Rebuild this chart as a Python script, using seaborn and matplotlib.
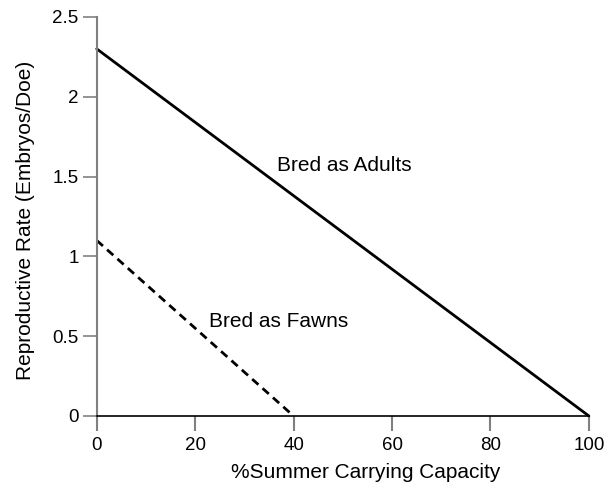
import pandas as pd
import seaborn as sns
import matplotlib.pyplot as plt

# --- Data
capacity_adults = [0, 100]
rate_adults = [2.3, 0.0]
capacity_fawns = [0, 40]
rate_fawns = [1.1, 0.0]
x_ticks = [0, 20, 40, 60, 80, 100]
y_ticks = [0, 0.5, 1, 1.5, 2, 2.5]
y_tick_labels = ['0', '0.5', '1', '1.5', '2', '2.5']

adults = pd.DataFrame({'capacity': capacity_adults, 'rate': rate_adults})
fawns = pd.DataFrame({'capacity': capacity_fawns, 'rate': rate_fawns})

sns.set_style('white')
plt.rcParams['font.family'] = ['Liberation Sans', 'DejaVu Sans']
plt.rcParams['text.color'] = 'black'
plt.rcParams['axes.labelcolor'] = 'black'
plt.rcParams['xtick.color'] = 'black'
plt.rcParams['ytick.color'] = 'black'

fig = plt.figure(figsize=(6.16, 4.84), dpi=100)
ax = fig.add_axes([0.157, 0.1405, 0.799, 0.8245])

sns.lineplot(data=adults, x='capacity', y='rate', color='black', lw=2, ax=ax)
sns.lineplot(data=fawns, x='capacity', y='rate', color='black', lw=2,
             linestyle=(0, (3, 2)), ax=ax)

ax.text(36.6, 1.57, 'Bred as Adults', fontsize=15, va='center')
ax.text(22.8, 0.59, 'Bred as Fawns', fontsize=15, va='center')

ax.set_xlim(0, 100)
ax.set_ylim(0, 2.5)
ax.set_xticks(x_ticks)
ax.set_yticks(y_ticks)
ax.set_yticklabels(y_tick_labels)
ax.set_xlabel('%Summer Carrying Capacity', fontsize=15)
ax.set_ylabel('Reproductive Rate (Embryos/Doe)', fontsize=15)

ax.spines['top'].set_visible(False)
ax.spines['right'].set_visible(False)
ax.spines['bottom'].set_color('black')
ax.spines['bottom'].set_linewidth(1.2)
ax.spines['left'].set_color('gray')
ax.spines['left'].set_linewidth(1.5)

ax.tick_params(axis='x', direction='out', length=11, width=1.5, color='gray',
               labelsize=13.5, pad=4, bottom=True)
ax.tick_params(axis='y', direction='out', length=10, width=1.2, color='gray',
               labelsize=13.5, pad=3, left=True)
ax.xaxis.set_label_coords(0.546, -0.118)
ax.yaxis.set_label_coords(-0.125, 0.49)
for line in ax.lines:
    line.set_clip_on(False)

fig.savefig('out.png', dpi=100, facecolor='white')
